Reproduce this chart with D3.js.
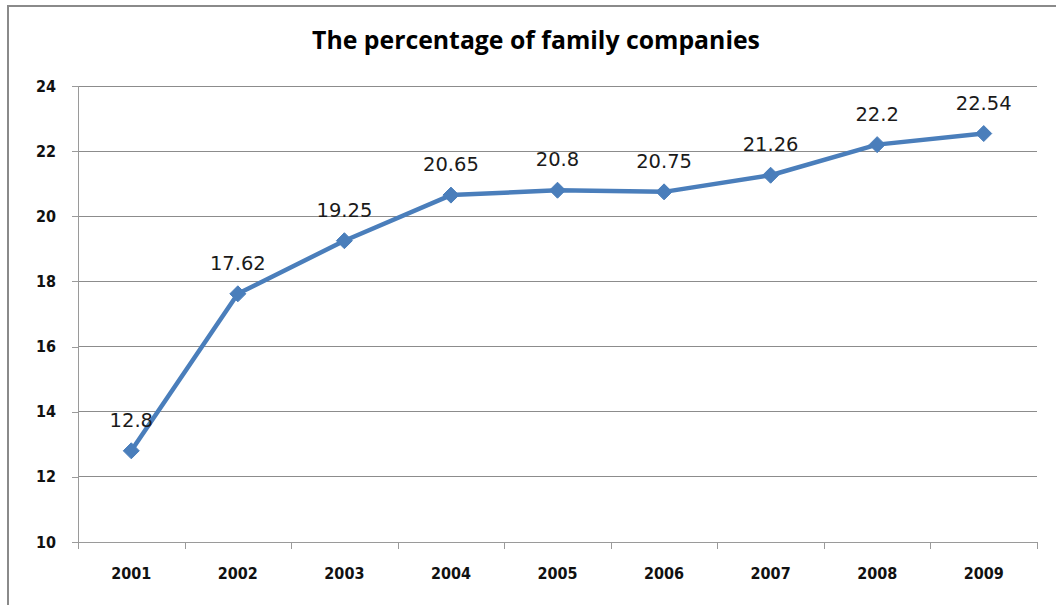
<!DOCTYPE html>
<html>
<head>
<meta charset="utf-8">
<script src="https://cdn.jsdelivr.net/npm/d3@7/dist/d3.min.js"></script>
<style>
  html, body { margin: 0; padding: 0; background: #fff; }
  svg { display: block; }
</style>
</head>
<body>
<svg id="chart" width="1056" height="605"></svg>
<script>
// Share of family companies by year
const years = ["2001", "2002", "2003", "2004", "2005", "2006", "2007", "2008", "2009"];
const percentages = [12.8, 17.62, 19.25, 20.65, 20.8, 20.75, 21.26, 22.2, 22.54];
const yTicks = [10, 12, 14, 16, 18, 20, 22, 24];
const chartTitle = "The percentage of family companies";

const svg = d3.select("#chart");
const plot = { left: 78, right: 1037, top: 86, bottom: 542 };

// Outer frame of the chart area
svg.append("rect")
  .attr("x", 8).attr("y", 6)
  .attr("width", 1070).attr("height", 620)
  .attr("fill", "#fff")
  .attr("stroke", "#8a8a8a")
  .attr("stroke-width", 2);

const x = d3.scaleBand().domain(years).range([plot.left, plot.right]).paddingInner(0).paddingOuter(0);
const y = d3.scaleLinear().domain([10, 24]).range([plot.bottom, plot.top]);

// Horizontal gridlines
svg.append("g")
  .selectAll("line")
  .data(yTicks.filter(v => v !== 10))
  .join("line")
  .attr("x1", plot.left).attr("x2", plot.right)
  .attr("y1", d => y(d)).attr("y2", d => y(d))
  .attr("stroke", "#8c8c8c")
  .attr("stroke-width", 1)
  .attr("shape-rendering", "crispEdges");

// Y axis
const yAxis = svg.append("g")
  .attr("transform", `translate(${plot.left},0)`)
  .call(d3.axisLeft(y).tickValues(yTicks).tickSize(6).tickPadding(16).tickFormat(d3.format("d")));
yAxis.select(".domain").attr("stroke", "#9a9a9a").attr("shape-rendering", "crispEdges");
yAxis.selectAll(".tick line").attr("stroke", "#9a9a9a").attr("shape-rendering", "crispEdges");
yAxis.selectAll("text")
  .attr("fill", "#111")
  .style("font-family", "'DejaVu Sans Condensed', 'DejaVu Sans', sans-serif")
  .style("font-weight", "bold")
  .style("font-size", "16px");

// X axis with ticks on category boundaries
const xAxis = svg.append("g")
  .attr("transform", `translate(0,${plot.bottom})`)
  .call(d3.axisBottom(x).tickSize(0).tickPadding(26));
xAxis.select(".domain").attr("stroke", "#9a9a9a").attr("shape-rendering", "crispEdges");
xAxis.selectAll("text")
  .attr("fill", "#111")
  .style("font-family", "'DejaVu Sans Condensed', 'DejaVu Sans', sans-serif")
  .style("font-weight", "bold")
  .style("font-size", "16px");
const boundaries = years.map(d => x(d)).concat([x(years[years.length - 1]) + x.bandwidth()]);
xAxis.selectAll(".boundary")
  .data(boundaries)
  .join("line")
  .attr("class", "boundary")
  .attr("x1", d => Math.round(d) + 0.5).attr("x2", d => Math.round(d) + 0.5)
  .attr("y1", 0).attr("y2", 7)
  .attr("stroke", "#9a9a9a");

const cx = d => x(d) + x.bandwidth() / 2;

// Series line
const line = d3.line()
  .x((d, i) => cx(years[i]))
  .y(d => y(d));
svg.append("path")
  .datum(percentages)
  .attr("d", line)
  .attr("fill", "none")
  .attr("stroke", "#4A7EBB")
  .attr("stroke-width", 4.5)
  .attr("stroke-linejoin", "round");

// Diamond markers
const diamond = "M0,-8L8,0L0,8L-8,0Z";
svg.append("g")
  .selectAll("path")
  .data(percentages)
  .join("path")
  .attr("d", diamond)
  .attr("transform", (d, i) => `translate(${cx(years[i])},${y(d)})`)
  .attr("fill", "#4A7EBB")
  .attr("stroke", "#4A7EBB")
  .attr("stroke-width", 1);

// Value labels
svg.append("g")
  .selectAll("text")
  .data(percentages)
  .join("text")
  .attr("x", (d, i) => cx(years[i]))
  .attr("y", d => y(d) - 24)
  .attr("text-anchor", "middle")
  .attr("fill", "#1a1a1a")
  .style("font-family", "'DejaVu Sans', sans-serif")
  .style("font-size", "19.5px")
  .text(d => String(d));

// Title
svg.append("text")
  .attr("x", 536)
  .attr("y", 49)
  .attr("text-anchor", "middle")
  .attr("fill", "#000")
  .style("font-family", "'Open Sans', sans-serif")
  .style("font-weight", "bold")
  .style("font-size", "24.8px")
  .text(chartTitle);
</script>
</body>
</html>
